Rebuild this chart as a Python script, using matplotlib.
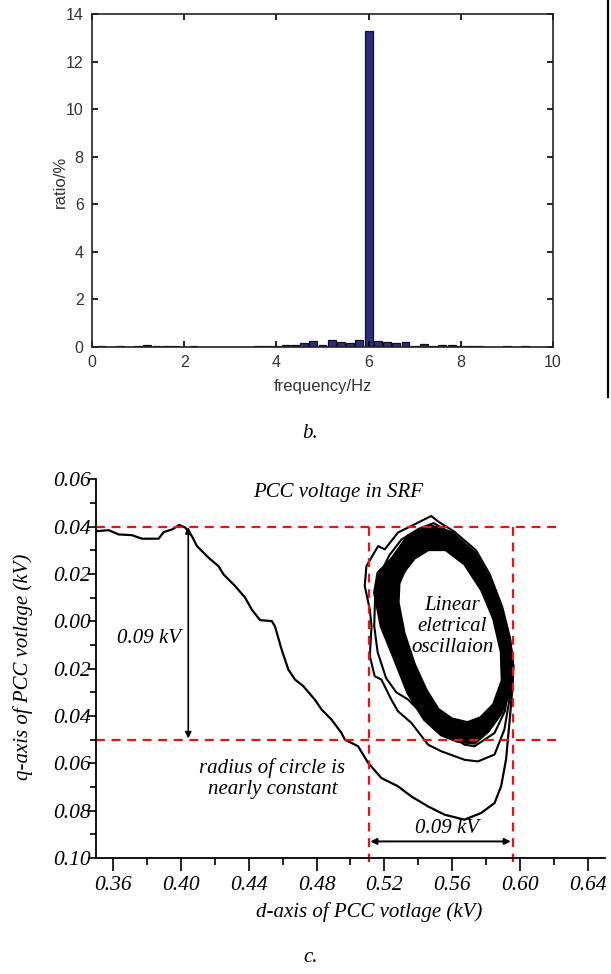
import matplotlib.pyplot as plt
from matplotlib.lines import Line2D
import numpy as np

# ---- panel b: spectrum ----
freq = [0.2, 0.4, 0.6, 0.8, 1.0, 1.2, 1.4, 1.6, 1.8, 2.0, 2.2, 2.4, 2.6, 2.8, 3.0, 3.2, 3.4,
        3.6, 3.8, 4.0, 4.2, 4.4, 4.6, 4.8, 5.0, 5.2, 5.4, 5.6, 5.8, 6.0, 6.2, 6.4, 6.6, 6.8,
        7.0, 7.2, 7.4, 7.6, 7.8, 8.0, 8.2, 8.4, 8.6, 8.8, 9.0, 9.2, 9.4, 9.6, 9.8]
ratio = [0.05, 0.02, 0.06, 0.02, 0.05, 0.08, 0.04, 0.05, 0.04, 0.02, 0.05, 0.01, 0.02, 0.02,
         0.02, 0.02, 0.01, 0.05, 0.05, 0.04, 0.10, 0.08, 0.19, 0.24, 0.07, 0.29, 0.21, 0.18,
         0.29, 13.3, 0.25, 0.22, 0.18, 0.21, 0.06, 0.12, 0.03, 0.10, 0.10, 0.04, 0.03, 0.03,
         0.01, 0.02, 0.03, 0.01, 0.04, 0.02, 0.01]

# ---- panel c: PCC voltage trajectory in SRF (d, q) ----
transient_d = [0.3507, 0.3575, 0.3634, 0.3712, 0.3771, 0.3869, 0.3899, 0.3948, 0.3991, 0.4026,
               0.4065, 0.4095, 0.4163, 0.4222, 0.4252, 0.4320, 0.4379, 0.4418, 0.4467, 0.4536,
               0.4555, 0.4594, 0.4634, 0.4673, 0.4722, 0.4790, 0.4830, 0.4888, 0.4947, 0.4967,
               0.5045, 0.5104, 0.5182, 0.5280, 0.5359, 0.5457, 0.5555, 0.5672, 0.5770, 0.5849,
               0.5888, 0.5917, 0.5937, 0.5957]
transient_q = [0.0381, 0.0385, 0.0367, 0.0364, 0.0349, 0.0349, 0.0377, 0.0388, 0.0407, 0.0396,
               0.0360, 0.0318, 0.0269, 0.0233, 0.0198, 0.0149, 0.0100, 0.0050, 0.0005, 0.0001,
               -0.0021, -0.0119, -0.0204, -0.0246, -0.0274, -0.0331, -0.0373, -0.0415, -0.0472,
               -0.0500, -0.0528, -0.0598, -0.0662, -0.0697, -0.0740, -0.0782, -0.0817, -0.0838,
               -0.0810, -0.0768, -0.0697, -0.0584, -0.0429, -0.0260]

loop1_d = [0.5957, 0.5960, 0.5940, 0.5895, 0.5820, 0.5740, 0.5610, 0.5520, 0.5476, 0.5398,
           0.5280, 0.5202, 0.5163, 0.5094, 0.5084, 0.5114, 0.5124, 0.5114, 0.5143, 0.5182,
           0.5241, 0.5280, 0.5359, 0.5457, 0.5535, 0.5672, 0.5751, 0.5849, 0.5907, 0.5947]
loop1_q = [-0.0260, -0.0190, -0.0070, 0.0060, 0.0200, 0.0300, 0.0380, 0.0420, 0.0445, 0.0417,
           0.0375, 0.0304, 0.0318, 0.0233, 0.0149, 0.0050, -0.0021, -0.0147, -0.0232, -0.0246,
           -0.0331, -0.0380, -0.0429, -0.0521, -0.0549, -0.0585, -0.0592, -0.0563, -0.0458,
           -0.0288]

loop2_d = [0.5947, 0.5950, 0.5930, 0.5885, 0.5810, 0.5730, 0.5600, 0.5490, 0.5400, 0.5300,
           0.5230, 0.5175, 0.5145, 0.5140, 0.5160, 0.5210, 0.5270, 0.5339, 0.5417, 0.5535,
           0.5672, 0.5731, 0.5849, 0.5910, 0.5940]
loop2_q = [-0.0288, -0.0180, -0.0060, 0.0060, 0.0190, 0.0290, 0.0370, 0.0415, 0.0390, 0.0345,
           0.0280, 0.0200, 0.0100, -0.0020, -0.0130, -0.0240, -0.0300, -0.0330, -0.0387,
           -0.0458, -0.0521, -0.0528, -0.0472, -0.0380, -0.0250]

band_out_d = [0.5241, 0.5339, 0.5476, 0.5594, 0.5731, 0.5810, 0.5888, 0.5937, 0.5957, 0.5937,
              0.5888, 0.5810, 0.5731, 0.5634, 0.5535, 0.5437, 0.5339, 0.5261, 0.5182, 0.5143,
              0.5163]
band_out_q = [0.0261, 0.0360, 0.0402, 0.0375, 0.0290, 0.0191, 0.0050, -0.0077, -0.0190, -0.0302,
              -0.0387, -0.0465, -0.0514, -0.0507, -0.0479, -0.0415, -0.0302, -0.0161, -0.0021,
              0.0121, 0.0205]
band_in_d = [0.5320, 0.5380, 0.5460, 0.5560, 0.5670, 0.5770, 0.5840, 0.5885, 0.5890, 0.5840,
             0.5765, 0.5690, 0.5600, 0.5520, 0.5450, 0.5380, 0.5320, 0.5285, 0.5290]
band_in_q = [0.0210, 0.0265, 0.0300, 0.0300, 0.0240, 0.0130, 0.0010, -0.0130, -0.0250, -0.0350,
             -0.0405, -0.0425, -0.0410, -0.0370, -0.0290, -0.0180, -0.0050, 0.0080, 0.0160]

fig = plt.figure(figsize=(6.11, 9.74), dpi=100)

# ================= panel b =================
ax1 = fig.add_axes([0.1506, 0.6437, 0.7545, 0.3419])
ax1.bar(freq, ratio, width=0.17, color='#2e2b82', edgecolor='#111111', linewidth=0.9)
ax1.set_xlim(0, 10)
ax1.set_ylim(0, 14)
ax1.set_xticks([0, 2, 4, 6, 8, 10])
ax1.set_yticks([0, 2, 4, 6, 8, 10, 12, 14])
ax1.tick_params(direction='in', top=True, right=True, length=4, width=1.2,
                labelsize=11.5, labelcolor='#333333', pad=6)
for sp in ax1.spines.values():
    sp.set_linewidth(1.2)
    sp.set_color('#222222')
for lab in ax1.get_xticklabels() + ax1.get_yticklabels():
    lab.set_family('Liberation Sans')
fig.text(0.098, 0.813, 'ratio/%', rotation=90, ha='center', va='center',
         fontsize=12, color='#333333', family='Liberation Sans')
fig.text(0.528, 0.603, 'frequency/Hz', ha='center', va='center',
         fontsize=12, color='#333333', family='Liberation Sans')
# border of neighbouring panel
fig.add_artist(Line2D([0.9955, 0.9955], [1.0, 1 - 397 / 974], color='black', lw=1.6,
                      transform=fig.transFigure))
fig.text(0.507, 1 - 433 / 974, 'b.', ha='center', va='center', fontsize=15,
         family='Liberation Serif', style='italic')

# ================= panel c =================
ser = dict(family='Liberation Serif', style='italic')
ax2 = fig.add_axes([0.1571, 0.1191, 0.833, 0.3888])
ax2.set_xlim(0.35, 0.65)
ax2.set_ylim(-0.10, 0.06)
ax2.spines['top'].set_visible(False)
ax2.spines['right'].set_visible(False)
for sp in ('left', 'bottom'):
    ax2.spines[sp].set_linewidth(1.3)

xt = [0.36, 0.40, 0.44, 0.48, 0.52, 0.56, 0.60, 0.64]
yt = [0.06, 0.04, 0.02, 0.00, -0.02, -0.04, -0.06, -0.08, -0.10]
ax2.set_xticks(xt)
ax2.set_xticklabels(['%.2f' % v for v in xt], **ser)
ax2.set_xticks([0.38, 0.42, 0.46, 0.50, 0.54, 0.58, 0.62], minor=True)
ax2.set_yticks(yt)
ax2.set_yticklabels(['%.2f' % abs(v) for v in yt], **ser)
ax2.set_yticks(np.arange(-0.09, 0.06, 0.02), minor=True)
ax2.tick_params(axis='x', which='major', direction='out', length=9, width=1.2,
                labelsize=15.5, pad=4)
ax2.tick_params(axis='x', which='minor', direction='out', length=5, width=1.2)
ax2.tick_params(axis='y', which='major', direction='out', length=6, width=1.2,
                labelsize=15.5, pad=-2)
ax2.tick_params(axis='y', which='minor', direction='out', length=4, width=1.2)

# trajectory
ax2.fill(band_out_d, band_out_q, color='black', lw=2.4, ec='black')
ax2.fill(band_in_d, band_in_q, color='white', lw=0)
ax2.plot(band_in_d + band_in_d[:1], band_in_q + band_in_q[:1], color='black', lw=1.2)
ax2.plot(loop1_d, loop1_q, color='black', lw=1.5)
ax2.plot(loop2_d, loop2_q, color='black', lw=1.5)
ax2.plot(transient_d, transient_q, color='black', lw=1.6)

# red dashed guides
red = dict(color='#ee1111', lw=1.6, ls=(0, (4, 3)))
ax2.plot([0.35, 0.622], [0.04, 0.04], **red)
ax2.plot([0.35, 0.622], [-0.05, -0.05], **red)
ax2.plot([0.511, 0.511], [0.04, -0.1015], clip_on=False, **red)
ax2.plot([0.596, 0.596], [0.04, -0.1015], clip_on=False, **red)

# arrows
ax2.annotate('', xy=(0.4044, -0.0495), xytext=(0.4044, 0.0398),
             arrowprops=dict(arrowstyle='<|-|>', color='black', lw=1.2,
                             mutation_scale=9, shrinkA=0, shrinkB=0))
ax2.annotate('', xy=(0.5945, -0.093), xytext=(0.5117, -0.093),
             arrowprops=dict(arrowstyle='<|-|>', color='black', lw=1.4,
                             mutation_scale=9, shrinkA=0, shrinkB=0))

ax2.text(0.493, 0.0545, 'PCC voltage in SRF', ha='center', va='center', fontsize=15, **ser)
ax2.text(0.381, -0.0072, '0.09 kV', ha='center', va='center', fontsize=15, **ser)
ax2.text(0.560, -0.0022, 'Linear\neletrical\noscillaion', ha='center', va='center',
         fontsize=15, linespacing=1.12, **ser)
ax2.text(0.454, -0.0664, 'radius of circle is\nnearly constant', ha='center', va='center',
         fontsize=15, linespacing=1.12, **ser)
ax2.text(0.557, -0.0875, '0.09 kV', ha='center', va='center', fontsize=15, **ser)

fig.text(0.0375, 0.315, 'q-axis of PCC votlage (kV)', rotation=90, ha='center',
         va='center', fontsize=15, **ser)
fig.text(0.605, 1 - 912 / 974, 'd-axis of PCC votlage (kV)', ha='center', va='center',
         fontsize=15, **ser)
fig.text(0.508, 1 - 958 / 974, 'c.', ha='center', va='center', fontsize=15, **ser)

fig.savefig('out.png', dpi=100)
